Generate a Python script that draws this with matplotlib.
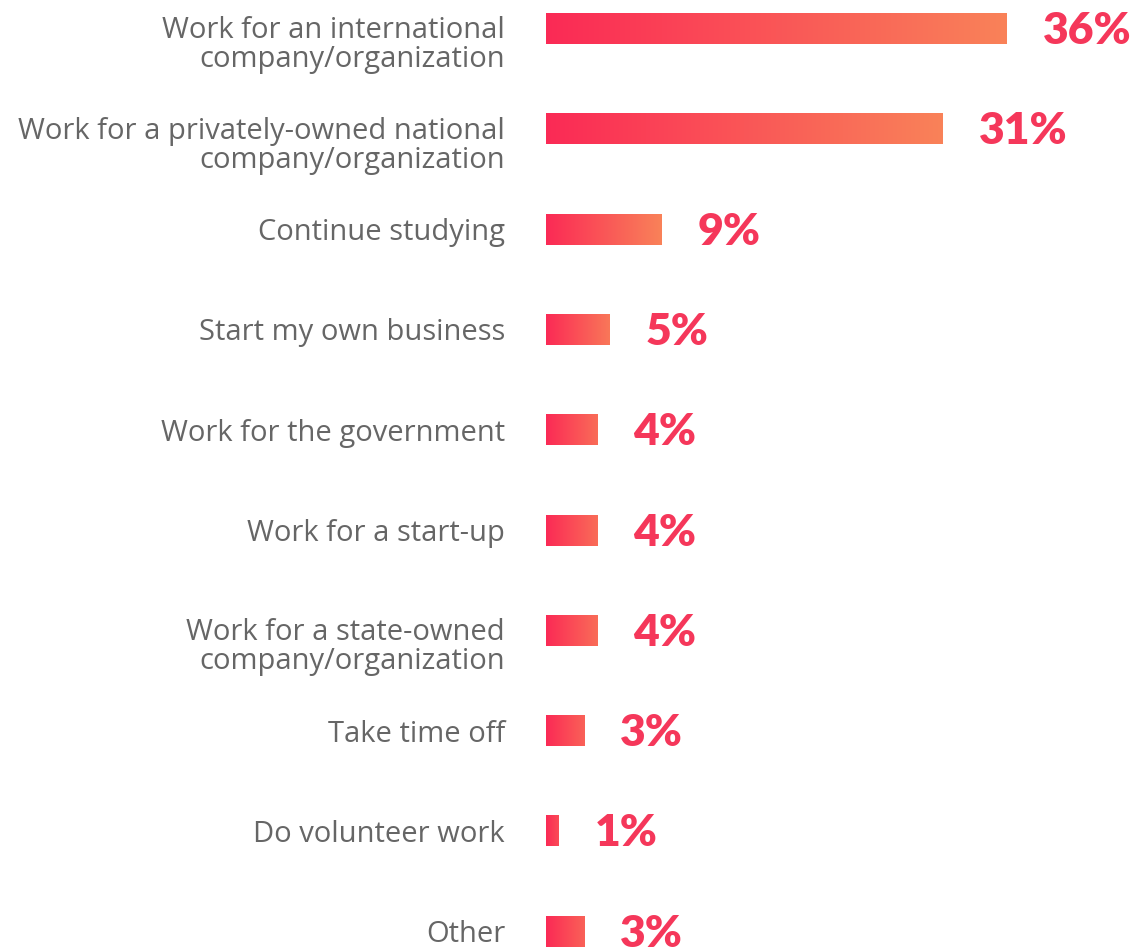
import numpy as np
import matplotlib.pyplot as plt
from matplotlib.colors import LinearSegmentedColormap

categories = [
    "Work for an international\ncompany/organization",
    "Work for a privately-owned national\ncompany/organization",
    "Continue studying",
    "Start my own business",
    "Work for the government",
    "Work for a start-up",
    "Work for a state-owned\ncompany/organization",
    "Take time off",
    "Do volunteer work",
    "Other",
]
values = [36, 31, 9, 5, 4, 4, 4, 3, 1, 3]

W, H = 1136, 948
px_per_pct = 12.8
row_px = 100.3
first_row_px = 29
bar_h = 0.3

grad = LinearSegmentedColormap.from_list("bar", ["#FB2A55", "#F98259"])
label_red = "#F5375A"
text_gray = "#666666"

fig = plt.figure(figsize=(W / 100, H / 100), dpi=100)
ax = fig.add_axes([546 / W, 0, 1 - 546 / W, 1])
ax.axis("off")

for i, (cat, v) in enumerate(zip(categories, values)):
    # short bars don't reach the full orange end of the gradient
    t = min(1.0, 0.25 + v / 8)
    g = np.linspace(0, t, 256).reshape(1, -1)
    ax.imshow(g, cmap=grad, vmin=0, vmax=1, aspect="auto",
              extent=[0, v, i + bar_h / 2, i - bar_h / 2],
              interpolation="bilinear")

    ax.annotate(f"{v}%", xy=(v, i), xytext=(36, -2), textcoords="offset pixels",
                ha="left", va="center", color=label_red, fontsize=32,
                fontweight="heavy", family="Lato")

    lines = cat.split("\n")
    for k, line in enumerate(lines):
        dy = -2 - 29 * k if len(lines) > 1 else -3
        ax.annotate(line, xy=(0, i), xytext=(-41, dy),
                    textcoords="offset pixels", ha="right", va="center",
                    color=text_gray, fontsize=21, family="Open Sans",
                    annotation_clip=False)

ax.set_xlim(0, (W - 546) / px_per_pct)
ax.set_ylim((H - first_row_px) / row_px, -first_row_px / row_px)

fig.savefig("out.png", dpi=100)
